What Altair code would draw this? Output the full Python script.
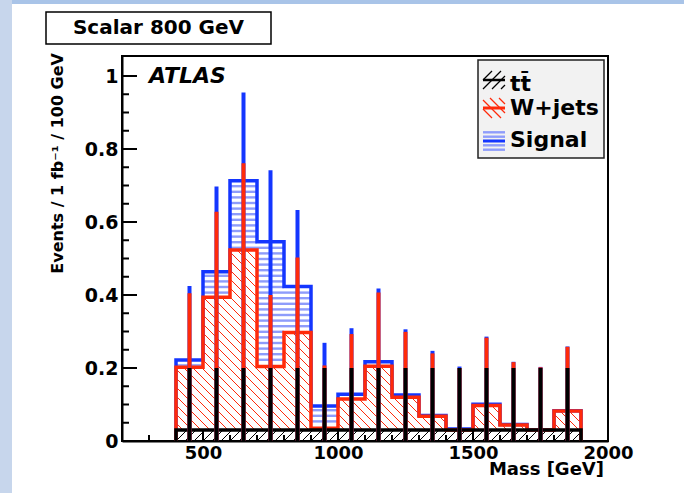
import altair as alt
import numpy as np
import pandas as pd

# ------------------------------------------------------------------ data
bin_edges = [400, 500, 600, 700, 800, 900, 1000, 1100, 1200, 1300,
             1400, 1500, 1600, 1700, 1800, 1900]
ttbar = [0.030, 0.030, 0.030, 0.030, 0.030, 0.030, 0.030, 0.030,
         0.030, 0.030, 0.030, 0.030, 0.030, 0.030, 0.030]
wjets = [0.172, 0.364, 0.493, 0.174, 0.267, 0.005, 0.085, 0.175,
         0.090, 0.038, 0.000, 0.067, 0.014, 0.000, 0.052]
signal = [0.020, 0.070, 0.190, 0.342, 0.126, 0.061, 0.013, 0.012,
          0.006, 0.002, 0.003, 0.004, 0.001, 0.001, 0.001]
# upper ends of the error bars (stacked)
ttbar_err_top = [0.200, 0.200, 0.200, 0.200, 0.200, 0.200, 0.200, 0.200,
                 0.200, 0.200, 0.200, 0.200, 0.200, 0.200, 0.200]
wjets_err_top = [0.405, 0.628, 0.761, 0.400, 0.503, 0.207, 0.293, 0.407,
                 0.299, 0.240, 0.200, 0.283, 0.216, 0.202, 0.258]
signal_err_top = [0.425, 0.697, 0.955, 0.742, 0.633, 0.269, 0.309, 0.418,
                  0.306, 0.247, 0.204, 0.286, 0.217, 0.203, 0.259]

y_major = [0, 0.2, 0.4, 0.6, 0.8, 1.0]
y_minor = [0.05, 0.1, 0.15, 0.25, 0.3, 0.35, 0.45, 0.5, 0.55, 0.65, 0.7,
           0.75, 0.85, 0.9, 0.95]
x_major = [500, 1000, 1500, 2000]
x_minor = [300, 400, 600, 700, 800, 900, 1100, 1200, 1300, 1400, 1600,
           1700, 1800, 1900]
legend_labels = ["tt\u0304", "W+jets", "Signal"]
title_text = "Scalar 800 GeV"
x_title = "Mass [GeV]"
y_title = "Events / 1 fb\u207b\u00b9 / 100 GeV"

# ------------------------------------------------------------------ geometry / style
W, H = 486, 385
XMIN, XMAX = 200, 2000
YMAX = 1.0548
kx = W / (XMAX - XMIN)
ky = H / YMAX
FONT = "DejaVu Sans"
BLUE = "#1436ff"
RED = "#ff2a0a"
STRIPE = "#8e9cfb"


def u2x(u):
    return XMIN + u / kx


def v2y(v):
    return v / ky


lo = np.array(bin_edges[:-1], dtype=float)
hi = np.array(bin_edges[1:], dtype=float)
centers = (lo + hi) / 2
s_tt = np.array(ttbar)
s_wj = s_tt + np.array(wjets)
s_sig = s_wj + np.array(signal)


def steps(levels):
    pts = [(bin_edges[0], 0.0)]
    for e, v in zip(bin_edges[:-1], levels):
        pts.append((e, float(v)))
    pts.append((bin_edges[-1], float(levels[-1])))
    pts.append((bin_edges[-1], 0.0))
    return pd.DataFrame({"x": [p[0] for p in pts], "y": [p[1] for p in pts],
                         "i": list(range(len(pts)))})


def back_hatch(u0, u1, v0, v1, sp):  # "\" lines : v = -u + c
    out = []
    for k in range(int(np.floor((u0 + v0) / sp)), int(np.ceil((u1 + v1) / sp)) + 1):
        c = k * sp
        a = max(u0, c - v1)
        b = min(u1, c - v0)
        if b - a > 0.3:
            out.append((a, c - a, b, c - b))
    return out


def fwd_hatch(u0, u1, v0, v1, sp):  # "/" lines : v = u + c
    out = []
    for k in range(int(np.floor((v0 - u1) / sp)), int(np.ceil((v1 - u0) / sp)) + 1):
        c = k * sp
        a = max(u0, v0 - c)
        b = min(u1, v1 - c)
        if b - a > 0.3:
            out.append((a, a + c, b, b + c))
    return out


def seg_df(segs):
    return pd.DataFrame({"x": [u2x(s[0]) for s in segs], "y": [v2y(s[1]) for s in segs],
                         "x2": [u2x(s[2]) for s in segs], "y2": [v2y(s[3]) for s in segs]})


red_segs, blk_segs, stripe_segs = [], [], []
for i in range(len(lo)):
    u0 = (lo[i] - XMIN) * kx
    u1 = (hi[i] - XMIN) * kx
    if (s_wj[i] - s_tt[i]) * ky > 1:
        red_segs += back_hatch(u0, u1, s_tt[i] * ky, s_wj[i] * ky, 9.0)
    blk_segs += fwd_hatch(u0, u1, 0.0, s_tt[i] * ky, 9.0)
    v_lo, v_hi = s_wj[i] * ky, s_sig[i] * ky
    for k in range(0, 80):
        v = (k + 0.5) * 5.6
        if v_lo + 1.5 < v < v_hi - 1.5:
            stripe_segs.append((u0, v, u1, v))

xs = alt.Scale(domain=[XMIN, XMAX], nice=False, zero=False)
ys = alt.Scale(domain=[0, YMAX], nice=False, zero=False)
xax = alt.Axis(values=x_major, format="d", ticks=False, grid=False, domainColor="black",
               domainWidth=2, labelFont=FONT, labelFontWeight="bold", labelFontSize=18,
               labelColor="black", labelPadding=3, labelFlush=False, labelOverlap=False,
               title=None)
yax = alt.Axis(values=y_major, format="~g", ticks=False, grid=False, domainColor="black",
               domainWidth=2, labelFont=FONT, labelFontWeight="bold", labelFontSize=19,
               labelColor="black", labelPadding=4, labelOverlap=False, title=None)


def X(f):
    return alt.X(f, type="quantitative", scale=xs, axis=xax)


def Y(f):
    return alt.Y(f, type="quantitative", scale=ys, axis=yax)


def rules(df, color, width):
    return alt.Chart(df).mark_rule(color=color, strokeWidth=width).encode(
        x=X("x"), y=Y("y"), x2="x2", y2="y2")


def outline(levels, color, width):
    return alt.Chart(steps(levels)).mark_line(
        interpolate="step-after", color=color, strokeWidth=width).encode(
        x=X("x"), y=Y("y"), order="i:Q")


def errbars(tops, color):
    df = pd.DataFrame({"x": centers, "y0": 0.0, "y": tops})
    return alt.Chart(df).mark_rule(color=color, strokeWidth=4).encode(
        x=X("x"), y=Y("y0"), y2="y")


layers = []
# background strips of the slide
layers.append(alt.Chart(pd.DataFrame({"a": [0]})).mark_rect(color="#c7d6ec").encode(
    x=alt.value(-122), x2=alt.value(-110), y=alt.value(-56), y2=alt.value(437)))
layers.append(alt.Chart(pd.DataFrame({"a": [0]})).mark_rect(color="#a9c4e8").encode(
    x=alt.value(-110), x2=alt.value(562), y=alt.value(-56), y2=alt.value(-52)))

layers.append(rules(seg_df(stripe_segs), STRIPE, 2.4))
layers.append(rules(seg_df(red_segs), RED, 1))
layers.append(rules(seg_df(blk_segs), "black", 1))
layers.append(outline(s_sig, BLUE, 3.5))
layers.append(outline(s_wj, RED, 3.5))
layers.append(outline(s_tt, "black", 3.5))
layers.append(errbars(signal_err_top, BLUE))
layers.append(errbars(wjets_err_top, RED))
layers.append(errbars(ttbar_err_top, "black"))

# inward ticks
layers.append(alt.Chart(pd.DataFrame({"v": y_major})).mark_rule(color="black", strokeWidth=2).encode(
    y=Y("v"), x=alt.value(0), x2=alt.value(15)))
layers.append(alt.Chart(pd.DataFrame({"v": y_minor})).mark_rule(color="black", strokeWidth=2).encode(
    y=Y("v"), x=alt.value(0), x2=alt.value(7)))
layers.append(alt.Chart(pd.DataFrame({"v": x_major})).mark_rule(color="black", strokeWidth=2).encode(
    x=X("v"), y=alt.value(H), y2=alt.value(H - 12)))
layers.append(alt.Chart(pd.DataFrame({"v": x_minor})).mark_rule(color="black", strokeWidth=2).encode(
    x=X("v"), y=alt.value(H), y2=alt.value(H - 6)))

# texts
layers.append(alt.Chart(pd.DataFrame({"t": ["ATLAS"]})).mark_text(
    font=FONT, fontSize=22, fontWeight="bold", fontStyle="italic", align="left",
    baseline="alphabetic", color="black").encode(text="t:N", x=alt.value(27), y=alt.value(27)))
layers.append(alt.Chart(pd.DataFrame({"t": [x_title]})).mark_text(
    font=FONT, fontSize=18, fontWeight="bold", align="right", baseline="alphabetic",
    color="black").encode(text="t:N", x=alt.value(482), y=alt.value(419)))
layers.append(alt.Chart(pd.DataFrame({"t": [y_title]})).mark_text(
    font=FONT, fontSize=16, fontWeight="bold", align="right", baseline="middle", angle=270,
    color="black").encode(text="t:N", x=alt.value(-64), y=alt.value(-3)))

# title box
layers.append(alt.Chart(pd.DataFrame({"a": [0]})).mark_rect(
    fill="white", stroke="black", strokeWidth=1.5).encode(
    x=alt.value(-76), x2=alt.value(149), y=alt.value(-44), y2=alt.value(-12)))
layers.append(alt.Chart(pd.DataFrame({"t": [title_text]})).mark_text(
    font=FONT, fontSize=20, fontWeight="bold", align="center", baseline="middle",
    color="black").encode(text="t:N", x=alt.value(36.5), y=alt.value(-28)))

# legend
layers.append(alt.Chart(pd.DataFrame({"a": [0]})).mark_rect(
    fill="#f2f2f2", stroke="#222222", strokeWidth=1.5).encode(
    x=alt.value(356), x2=alt.value(482), y=alt.value(4), y2=alt.value(102)))

sym_x0, sym_x1 = 361, 383
row_c = [24, 52, 85]      # symbol centres (px from top of plot)
row_base = [35, 59, 91]   # label baselines


def px_segs(segs):
    # segs in screen pixels (x, y from top) -> data coords
    return pd.DataFrame({"x": [u2x(s[0]) for s in segs], "y": [v2y(H - s[1]) for s in segs],
                         "x2": [u2x(s[2]) for s in segs], "y2": [v2y(H - s[3]) for s in segs]})


# ttbar symbol: "/" hatch + black line
tt_h = fwd_hatch(sym_x0, sym_x1, H - row_c[0] - 9, H - row_c[0] + 9, 9.0)
tt_h = [(a, H - b, c, H - d) for a, b, c, d in tt_h]
layers.append(rules(px_segs(tt_h), "black", 1.2))
layers.append(rules(px_segs([(sym_x0, row_c[0], sym_x1, row_c[0])]), "black", 2.5))
# W+jets symbol: "\" hatch + red line
wj_h = back_hatch(sym_x0, sym_x1, H - row_c[1] - 10, H - row_c[1] + 10, 9.0)
wj_h = [(a, H - b, c, H - d) for a, b, c, d in wj_h]
layers.append(rules(px_segs(wj_h), RED, 1.2))
layers.append(rules(px_segs([(sym_x0, row_c[1], sym_x1, row_c[1])]), RED, 3))
# Signal symbol: horizontal stripes + blue line
sg_h = [(sym_x0, row_c[2] + d, sym_x1, row_c[2] + d) for d in (-8.7, -4.3, 4.3, 8.7)]
layers.append(rules(px_segs(sg_h), STRIPE, 2.4))
layers.append(rules(px_segs([(sym_x0, row_c[2], sym_x1, row_c[2])]), BLUE, 3))

leg_df = pd.DataFrame({"t": legend_labels,
                       "x": [u2x(388)] * 3,
                       "y": [v2y(H - b) for b in row_base]})
layers.append(alt.Chart(leg_df).mark_text(
    font=FONT, fontSize=22, fontWeight="bold", align="left", baseline="alphabetic",
    color="black").encode(text="t:N", x=X("x"), y=Y("y")))

chart = alt.layer(*layers).properties(
    width=W, height=H,
    autosize=alt.AutoSizeParams(type="none"),
    padding={"left": 122, "top": 56, "right": 76, "bottom": 52},
    background="white",
).configure_view(stroke="black", strokeWidth=2)

chart.save("out.html", embed_options={"renderer": "svg", "actions": False})
